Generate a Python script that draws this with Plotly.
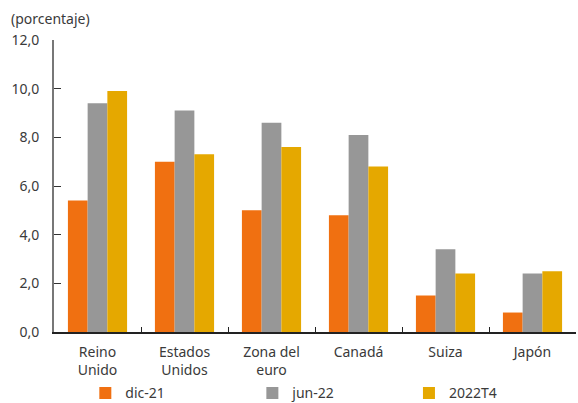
import plotly.graph_objects as go

categories = ["Reino<br>Unido", "Estados<br>Unidos", "Zona del<br>euro", "Canadá", "Suiza", "Japón"]
dic21 = [5.4, 7.0, 5.0, 4.8, 1.5, 0.8]
jun22 = [9.4, 9.1, 8.6, 8.1, 3.4, 2.4]
t4_2022 = [9.9, 7.3, 7.6, 6.8, 2.4, 2.5]

series = [
    ("dic-21", dic21, "#F07011", "legend"),
    ("jun-22", jun22, "#979797", "legend2"),
    ("2022T4", t4_2022, "#E5A800", "legend3"),
]

FONT = "Noto Sans"
TEXT = "#3a3a3a"

fig = go.Figure()
for name, vals, color, leg in series:
    fig.add_trace(
        go.Bar(
            x=categories,
            y=vals,
            name=name,
            legend=leg,
            marker=dict(color=color, line=dict(width=0)),
        )
    )

# three legends side by side, like the original
leg_base = dict(
    orientation="h",
    xanchor="left",
    y=-0.21,
    yanchor="middle",
    itemwidth=30,
    font=dict(size=14, color=TEXT),
    bgcolor="rgba(0,0,0,0)",
)

fig.update_layout(
    width=578,
    height=403,
    margin=dict(l=54, r=2, t=40, b=71, autoexpand=False),
    paper_bgcolor="white",
    plot_bgcolor="white",
    separators=",.",
    font=dict(family=FONT, size=14, color=TEXT),
    barmode="group",
    bargap=0.32,
    bargroupgap=0,
    showlegend=True,
    legend=dict(leg_base, x=0.06),
    legend2=dict(leg_base, x=0.38),
    legend3=dict(leg_base, x=0.68),
    annotations=[
        dict(
            text="(porcentaje)",
            xref="paper",
            yref="paper",
            x=-0.087,
            y=1.0,
            xanchor="left",
            yanchor="bottom",
            yshift=10,
            showarrow=False,
            font=dict(size=14, color=TEXT),
        )
    ],
)

fig.update_xaxes(
    showline=True,
    linecolor="#222222",
    linewidth=1.5,
    ticks="inside",
    tickson="boundaries",
    ticklen=5,
    tickcolor="#222222",
    showgrid=False,
    ticklabelstandoff=6,
    tickfont=dict(size=14, color=TEXT),
)

fig.update_yaxes(
    range=[0, 12],
    dtick=2,
    tickformat=".1f",
    showline=True,
    linecolor="#777777",
    linewidth=2,
    ticks="inside",
    ticklen=7,
    tickcolor="#333333",
    showgrid=False,
    zeroline=False,
    ticklabelstandoff=10,
    tickfont=dict(size=14, color=TEXT),
)

# drop the default page margin so the chart sits at the window's corner
fig.write_html(
    "out.html",
    config={"displayModeBar": False},
    post_script="document.body.style.margin = '0';",
)
